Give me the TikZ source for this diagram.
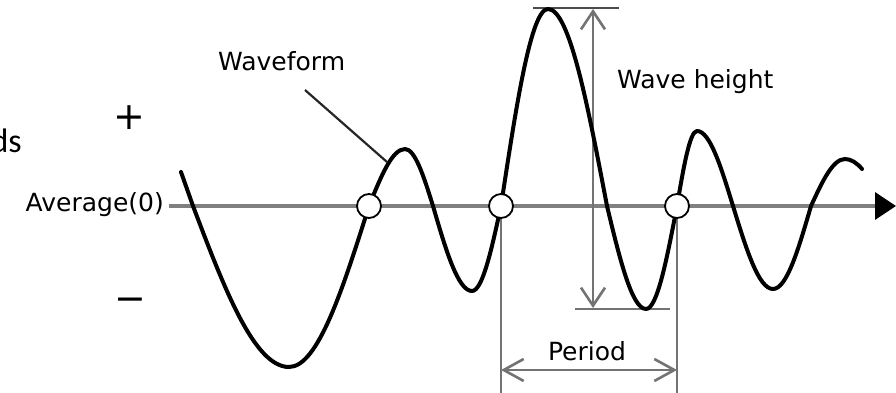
\documentclass[tikz,border=0pt]{standalone}
\usepackage{fontspec}
\setmainfont{DejaVu Sans}
\newfontfamily\carl{Carlito}
\usetikzlibrary{arrows.meta}
\tikzset{
  vbarb/.tip={Straight Barb[length=18pt,width=24pt]},
  hbarb/.tip={Straight Barb[length=20pt,width=22pt]}}
\begin{document}
\begin{tikzpicture}[x=1pt,y=-1pt,
  lbl/.style={inner sep=0pt, font=\fontsize{25}{30}\selectfont},
  sym/.style={inner sep=0pt, font=\fontsize{38}{40}\selectfont},
  wave/.style={line width=4pt, black, line join=round, line cap=round},
  axisline/.style={line width=3.6pt, black!50},
  dimline/.style={line width=2.6pt, black!55},
  leader/.style={line width=2.2pt, black!85},
  zero/.style={circle, draw=black, fill=white, line width=1.8pt, minimum size=24pt, inner sep=0pt}]
\useasboundingbox (0,0) rectangle (896,393);

% axis
\coordinate (ax0) at (169,206);
\coordinate (ax1) at (896,206);
\draw[axisline, -{Triangle[length=21pt,width=27pt,color=black]}] (ax0) -- (ax1);

% wave height dimension
\coordinate (ht0) at (533,8);   \coordinate (ht1) at (619,8);
\coordinate (hb0) at (575,309); \coordinate (hb1) at (670,309);
\coordinate (wt) at (593,9);    \coordinate (wb) at (593,308);
\draw[dimline, black!70] (ht0) -- (ht1);
\draw[dimline] (hb0) -- (hb1);
\draw[dimline, vbarb-vbarb] (wt) -- (wb);

% period dimension
\coordinate (pl0) at (501,206); \coordinate (pl1) at (501,393);
\coordinate (pr0) at (677,206); \coordinate (pr1) at (677,393);
\coordinate (pa0) at (501,370); \coordinate (pa1) at (677,370);
\draw[dimline] (pl0) -- (pl1);
\draw[dimline] (pr0) -- (pr1);
\draw[dimline, hbarb-hbarb] (pa0) -- (pa1);

% waveform
\draw[wave] (181,172) -- (193,206)
  .. controls (224.3,288.6) and (254.3,367) .. (289,367)
  .. controls (318.0,367) and (342.9,288.6) .. (369,206)
  .. controls (380.8,176.8) and (392.0,149) .. (405,149)
  .. controls (415.1,149) and (423.9,176.8) .. (433,206)
  .. controls (445.7,249.6) and (457.9,291) .. (472,291)
  .. controls (482.5,291) and (491.5,249.6) .. (501,206)
  .. controls (516.3,105.0) and (531.0,9) .. (548,9)
  .. controls (569.4,9) and (587.7,105.0) .. (607,206)
  .. controls (619.7,258.8) and (631.9,309) .. (646,309)
  .. controls (657.2,309) and (666.9,258.8) .. (677,206)
  .. controls (683.5,167.5) and (689.8,131) .. (697,131)
  .. controls (710.0,131) and (721.2,167.5) .. (733,206)
  .. controls (746.1,248.6) and (758.5,289) .. (773,289)
  .. controls (786.8,289) and (798.6,248.6) .. (811,206)
  .. controls (822.1,181.9) and (832.7,159) .. (845,159)
  .. controls (851,159) and (857,163) .. (862,169);

% leader line
\coordinate (ld0) at (305,90);
\coordinate (ld1) at (387,162);
\draw[leader] (ld0) -- (ld1);

% zero crossings
\node[zero] (z1) at (369,206) {};
\node[zero] (z2) at (501,206) {};
\node[zero] (z3) at (677,206) {};

% labels
\node[lbl, anchor=base west] (wf) at (218,71) {Waveform};
\node[lbl, anchor=base west] (wh) at (617,89) {Wave height};
\node[lbl, anchor=base] (pd) at (587,360) {Period};
\node[lbl, anchor=base east] (av) at (164,211) {Average(0)};
\node[sym] (plus) at (129,118) {+};
\node[sym] (minus) at (130,305) {−};
\node[inner sep=0pt, anchor=base east, font=\carl\fontsize{34}{36}\selectfont] (ds) at (22,152) {ds};
\end{tikzpicture}
\end{document}
